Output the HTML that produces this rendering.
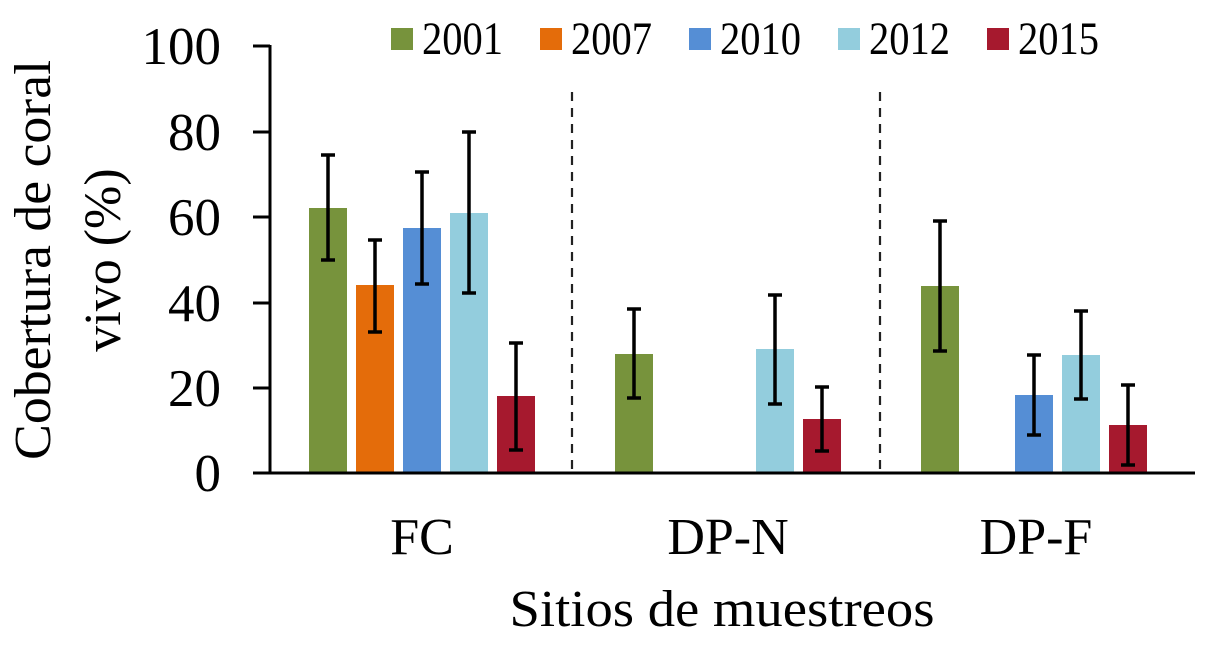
<!DOCTYPE html>
<html><head><meta charset="utf-8"><style>
html,body{margin:0;padding:0;background:#fff;}
svg{display:block;}
text{font-family:"Liberation Serif",serif;fill:#000;}
</style></head><body>
<svg width="1221" height="661" viewBox="0 0 1221 661" xmlns="http://www.w3.org/2000/svg">
<line x1="572" y1="92" x2="572" y2="473" stroke="#222" stroke-width="2.2" stroke-dasharray="9,7"/>
<line x1="880" y1="92" x2="880" y2="473" stroke="#222" stroke-width="2.2" stroke-dasharray="9,7"/>
<g>
<rect x="309" y="208" width="38" height="265" fill="#77933c"/>
<rect x="356" y="285" width="38" height="188" fill="#e46c0a"/>
<rect x="403" y="228" width="38" height="245" fill="#558ed5"/>
<rect x="450" y="213" width="38" height="260" fill="#93cddd"/>
<rect x="497" y="396" width="38" height="77" fill="#a6192e"/>
<rect x="615" y="354" width="38" height="119" fill="#77933c"/>
<rect x="756" y="349" width="38" height="124" fill="#93cddd"/>
<rect x="803" y="419" width="38" height="54" fill="#a6192e"/>
<rect x="921" y="286" width="38" height="187" fill="#77933c"/>
<rect x="1015" y="395" width="38" height="78" fill="#558ed5"/>
<rect x="1062" y="355" width="38" height="118" fill="#93cddd"/>
<rect x="1109" y="425" width="38" height="48" fill="#a6192e"/>
</g>
<g stroke="#000" stroke-width="3.5">
<path d="M328 155V260M321 155H335M321 260H335"/>
<path d="M375 240V332M368 240H382M368 332H382"/>
<path d="M422 172V284M415 172H429M415 284H429"/>
<path d="M469 132V293M462 132H476M462 293H476"/>
<path d="M516 343V450M509 343H523M509 450H523"/>
<path d="M634 309V398M627 309H641M627 398H641"/>
<path d="M775 295V404M768 295H782M768 404H782"/>
<path d="M822 387V451M815 387H829M815 451H829"/>
<path d="M940 221V351M933 221H947M933 351H947"/>
<path d="M1034 355V435M1027 355H1041M1027 435H1041"/>
<path d="M1081 311V399M1074 311H1088M1074 399H1088"/>
<path d="M1128 385V465M1121 385H1135M1121 465H1135"/>
</g>
<g stroke="#000" stroke-width="3">
<line x1="270" y1="45" x2="270" y2="474"/>
<line x1="253" y1="473" x2="1195" y2="473"/>
<line x1="253" y1="46" x2="270" y2="46"/>
<line x1="253" y1="132" x2="270" y2="132"/>
<line x1="253" y1="217" x2="270" y2="217"/>
<line x1="253" y1="303" x2="270" y2="303"/>
<line x1="253" y1="388" x2="270" y2="388"/>
</g>
<g font-size="53" text-anchor="end">
<text x="221" y="64">100</text>
<text x="221" y="150">80</text>
<text x="221" y="235">60</text>
<text x="221" y="321">40</text>
<text x="221" y="406">20</text>
<text x="221" y="491">0</text>
</g>
<g font-size="52" text-anchor="middle">
<text transform="translate(50,260) rotate(-90)" textLength="400" lengthAdjust="spacingAndGlyphs">Cobertura de coral</text>
<text transform="translate(120,260) rotate(-90)">vivo (%)</text>
</g>
<g font-size="52" text-anchor="middle">
<text x="422" y="554">FC</text>
<text x="728" y="554">DP-N</text>
<text x="1036" y="554">DP-F</text>
<text x="722" y="626" textLength="425" lengthAdjust="spacingAndGlyphs">Sitios de muestreos</text>
</g>
<g font-size="47">
<rect x="391" y="28" width="22" height="22" fill="#77933c"/>
<text x="422" y="54" textLength="81" lengthAdjust="spacingAndGlyphs">2001</text>
<rect x="540" y="28" width="22" height="22" fill="#e46c0a"/>
<text x="571" y="54" textLength="81" lengthAdjust="spacingAndGlyphs">2007</text>
<rect x="689" y="28" width="22" height="22" fill="#558ed5"/>
<text x="720" y="54" textLength="81" lengthAdjust="spacingAndGlyphs">2010</text>
<rect x="838" y="28" width="22" height="22" fill="#93cddd"/>
<text x="869" y="54" textLength="81" lengthAdjust="spacingAndGlyphs">2012</text>
<rect x="987" y="28" width="22" height="22" fill="#a6192e"/>
<text x="1018" y="54" textLength="81" lengthAdjust="spacingAndGlyphs">2015</text>
</g>
</svg>
</body></html>
